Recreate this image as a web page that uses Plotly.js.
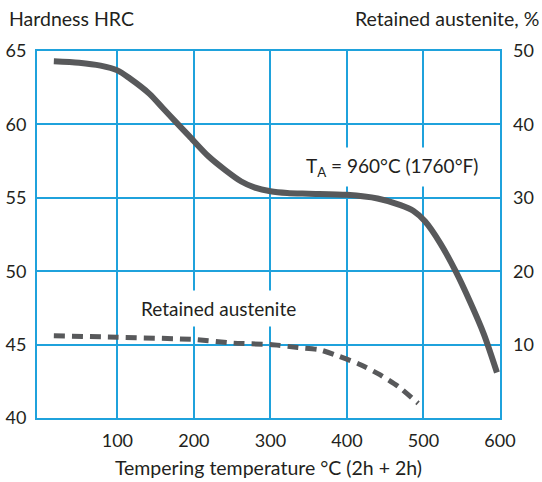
<!DOCTYPE html>
<html>
<head>
<meta charset="utf-8">
<script src="https://cdn.plot.ly/plotly-3.0.1.min.js"></script>
<style>html,body{margin:0;padding:0;background:#fff;}#chart{width:542px;height:482px;}</style>
</head>
<body>
<div id="chart"></div>
<script>
// Hardness (HRC) vs tempering temperature (°C)
const hardTemp = [17, 50, 78, 100, 116, 142, 159, 176, 194, 219, 241, 262, 279, 300, 322, 350, 400, 440, 470, 487, 502, 522, 542, 561, 579, 596];
const hardHRC  = [64.3, 64.2, 64.0, 63.68, 63.14, 62.08, 61.13, 60.19, 59.2, 57.83, 56.89, 56.11, 55.71, 55.45, 55.33, 55.28, 55.2, 54.95, 54.5, 54.1, 53.4, 51.9, 50.0, 47.9, 45.7, 43.1];
// Retained austenite (%) vs tempering temperature (°C)
const raTemp = [17, 100, 200, 252, 300, 336, 364, 390, 417, 443, 467, 493];
const raPct  = [11.2, 11.0, 10.7, 10.2, 10.0, 9.6, 9.3, 8.4, 7.3, 5.9, 4.3, 2.0];
const xTicks = [100, 200, 300, 400, 500, 600];
const yLeftTicks = [40, 45, 50, 55, 60, 65];
const yRightTicks = [10, 20, 30, 40, 50];

const FONT = 'Lato, "Open Sans", sans-serif';
const TXT = '#231f20';
const GRID = '#1fa2dc';
const LINE = '#58595b';
const TICKSZ = 18, TITLESZ = 19.5, NOTESZ = 19;

const traces = [
  {x: hardTemp, y: hardHRC, type: 'scatter', mode: 'lines', line: {color: LINE, width: 6, shape: 'spline', smoothing: 0.8}, yaxis: 'y', hoverinfo: 'skip'},
  {x: raTemp, y: raPct, type: 'scatter', mode: 'lines', line: {color: LINE, width: 5, dash: '11px,7px', shape: 'spline', smoothing: 0.6}, yaxis: 'y2', hoverinfo: 'skip'}
];

const layout = {
  width: 542, height: 482,
  margin: {l: 37, r: 42, t: 51, b: 64, pad: 0},
  paper_bgcolor: '#fff', plot_bgcolor: '#fff',
  showlegend: false,
  font: {family: FONT, size: TICKSZ, color: TXT},
  xaxis: {
    range: [-5, 600], tickvals: xTicks, ticktext: xTicks.map(String),
    showgrid: true, gridcolor: GRID, gridwidth: 2,
    showline: true, linecolor: GRID, linewidth: 2, mirror: true,
    zeroline: false, ticks: '', ticklabelstandoff: 5,
    tickfont: {family: FONT, size: TICKSZ, color: TXT},
    title: {text: 'Tempering temperature °C (2h + 2h)', font: {family: FONT, size: TITLESZ, color: TXT}, standoff: 12}
  },
  yaxis: {
    range: [40, 65], tickvals: yLeftTicks, ticktext: yLeftTicks.map(String),
    showgrid: true, gridcolor: GRID, gridwidth: 2,
    showline: true, linecolor: GRID, linewidth: 2, mirror: true,
    zeroline: false, ticks: '', ticklabelstandoff: 5,
    tickfont: {family: FONT, size: TICKSZ, color: TXT}
  },
  yaxis2: {
    range: [0, 50], overlaying: 'y', side: 'right', tickvals: yRightTicks, ticktext: yRightTicks.map(String),
    showgrid: false, zeroline: false, showline: false, ticks: '', ticklabelstandoff: 12,
    tickfont: {family: FONT, size: TICKSZ, color: TXT}
  },
  annotations: [
    {xref: 'paper', yref: 'paper', x: -0.064, y: 1.052, xanchor: 'left', yanchor: 'bottom', showarrow: false,
     text: 'Hardness HRC', font: {family: FONT, size: TITLESZ, color: TXT}},
    {xref: 'paper', yref: 'paper', x: 1.088, y: 1.052, xanchor: 'right', yanchor: 'bottom', showarrow: false,
     text: 'Retained austenite, %', font: {family: FONT, size: TITLESZ, color: TXT}},
    {xref: 'x', yref: 'y', x: 459, y: 57.1, xanchor: 'center', yanchor: 'middle', showarrow: false,
     text: 'T<sub>A</sub> = 960°C (1760°F)', bgcolor: '#fff', borderpad: 6,
     font: {family: FONT, size: NOTESZ, color: TXT}},
    {xref: 'x', yref: 'y', x: 232, y: 47.45, xanchor: 'center', yanchor: 'middle', showarrow: false,
     text: 'Retained austenite', bgcolor: '#fff', borderpad: 6,
     font: {family: FONT, size: NOTESZ, color: TXT}}
  ]
};

Plotly.newPlot('chart', traces, layout, {staticPlot: true, displayModeBar: false});
</script>
</body>
</html>
